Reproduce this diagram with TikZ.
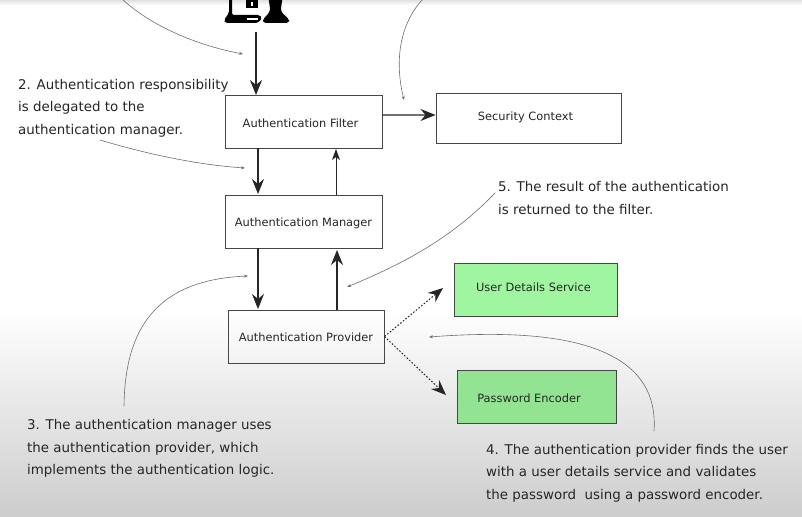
\documentclass[tikz,border=0pt]{standalone}
\usepackage{fontspec}
\setmainfont{DejaVu Sans}
\usepackage{xcolor}
\usetikzlibrary{arrows.meta, positioning, calc}
\definecolor{linegray}{RGB}{70,70,70}
\definecolor{notegray}{RGB}{110,110,110}
\definecolor{servicegreen}{RGB}{160,245,160}
\definecolor{encodergreen}{RGB}{146,228,146}
\definecolor{bottomgray}{RGB}{205,205,205}
\definecolor{topgray}{RGB}{225,225,225}
\tikzset{
  box/.style={draw=linegray, line width=1pt, minimum width=157pt, minimum height=53pt, inner sep=0pt, text height=10pt, text depth=0pt, font=\fontsize{11.4}{13}\selectfont, text=black!85},
  note/.style={anchor=west, inner sep=0pt, text height=11pt, text depth=0pt, font=\fontsize{13.4}{16}\selectfont, text=black!85, align=left},
  flow/.style={-{Stealth[length=15pt,width=12pt,inset=5pt]}, line width=1.1pt, black!85},
  thinflow/.style={-{Stealth[length=11pt,width=8pt,inset=3pt]}, line width=1pt, black!85},
  dotflow/.style={-{Stealth[length=15pt,width=12pt,inset=5pt]}, line width=1pt, dash pattern=on 1.6pt off 1.8pt, black!85},
  pointer/.style={-{Stealth[length=4pt,width=3pt]}, line width=0.6pt, notegray},
}
\begin{document}
\begin{tikzpicture}[x=1pt,y=-1pt]
  \useasboundingbox (0,0) rectangle (802,516);
  % background
  \fill[white] (0,0) rectangle (802,516);
  \shade[top color=topgray, bottom color=white] (0,0) rectangle (802,5);
  \shade[top color=white, bottom color=bottomgray] (0,310) rectangle (802,516);

  % user icon
  \begin{scope}
    \clip (215,0) rectangle (300,40);
    \fill[black, rounded corners=2pt] (229,-5) -- (229,13) -- (224,20) -- (225,23) -- (258,23) -- (262,18) -- (260,15) -- (232,15) -- (232,-5) -- cycle;
    \fill[black] (246,-3) rectangle (258,8);
    \fill[white] (251,2) rectangle (253,6);
    \fill[white] (247,18) rectangle (258,20);
    \fill[black, rounded corners=3pt] (268,-5) -- (270,8) -- (270,12) -- (263,19) -- (263,23) -- (289,23) -- (289,19) -- (281,12) -- (281,8) -- (283,-5) -- cycle;
    \coordinate (laptop) at (256,32);
  \end{scope}

  % boxes
  \node[box] (filter) at (303.5,122) {\hspace*{-6pt}Authentication Filter};
  \node[box, minimum width=185pt, minimum height=49pt, text height=5pt] (context) at (528.5,118.5) {\hspace*{-6pt}Security Context};
  \node[box] (manager) at (303.5,221.5) {Authentication Manager};
  \node[box, minimum width=156pt] (provider) at (306,336.5) {Authentication Provider};
  \node[box, fill=servicegreen, minimum width=163pt, text height=3pt] (service) at (535.5,289.5) {\hspace*{-4pt}User Details Service};
  \node[box, fill=encodergreen, minimum width=159pt, text height=11pt] (encoder) at (536.5,396.5) {\hspace*{-15pt}Password Encoder};

  % notes
  \node[note] (note2a) at (18,84) {2. Authentication responsibility};
  \node[note] (note2b) at (18,106) {is delegated to the};
  \node[note] (note2c) at (18,129) {authentication manager.};
  \node[note] (note5a) at (498,186) {5. The result of the authentication};
  \node[note] (note5b) at (498,209) {is returned to the filter.};
  \node[note] (note3a) at (27,424) {3. The authentication manager uses};
  \node[note] (note3b) at (27,447) {the authentication provider, which};
  \node[note] (note3c) at (27,469) {implements the authentication logic.};
  \node[note] (note4a) at (486,449) {4. The authentication provider finds the user};
  \node[note] (note4b) at (486,471) {with a user details service and validates};
  \node[note] (note4c) at (486,494) {the password\ \ using a password encoder.};

  % main connectors
  \draw[flow] (laptop) -- (laptop |- filter.north);
  \draw[flow] ($(filter.north east)!0.37!(filter.south east)$) -- ($(context.north west)!0.43!(context.south west)$);
  \draw[flow] (258,148) -- (258,194);
  \draw[thinflow] (336,195) -- (336,149);
  \draw[flow] (258,248) -- (258,309);
  \draw[flow] (337,310) -- (337,250);
  \draw[dotflow] (provider.east) -- (443,288);
  \draw[dotflow] (provider.east) -- (446,395);

  % pointers from the notes
  \coordinate (topleft) at (122,-1);
  \coordinate (topright) at (423,-1);
  \coordinate (from2) at (100,140);
  \coordinate (from5) at (495,193);
  \coordinate (from3) at (124,406);
  \coordinate (from4) at (654,431);
  \draw[pointer] (topleft) .. controls (150,25) and (195,45) .. (243,54);
  \draw[pointer] (topright) .. controls (403,20) and (393,55) .. (404,100);
  \draw[pointer] (from2) .. controls (150,155) and (200,165) .. (245,168);
  \draw[pointer] (from5) .. controls (450,240) and (400,265) .. (347,287);
  \draw[pointer] (from3) .. controls (125,330) and (155,280) .. (248,276);
  \draw[pointer] (from4) .. controls (660,345) and (560,327) .. (429,337);
\end{tikzpicture}
\end{document}
